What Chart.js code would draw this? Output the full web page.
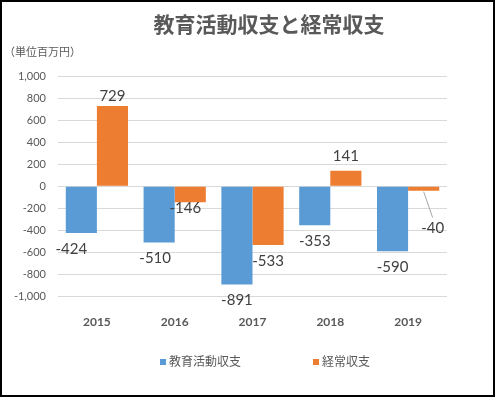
<!DOCTYPE html>
<html>
<head>
<meta charset="utf-8">
<script src="https://cdn.jsdelivr.net/npm/chart.js@4.4.0/dist/chart.umd.min.js"></script>
<style>
  html, body { margin: 0; padding: 0; background: #fff; }
  #wrap { width: 496px; height: 397px; position: relative; }
</style>
</head>
<body>
<div id="wrap"><canvas id="myChart"></canvas></div>
<script>
const categories = ['2015', '2016', '2017', '2018', '2019'];
const eduValues = [-424, -510, -891, -353, -590];
const ordinaryValues = [729, -146, -533, 141, -40];
const seriesNames = ['教育活動収支', '経常収支'];
const chartTitle = '教育活動収支と経常収支';
const unitLabel = '（単位百万円）';
const yMin = -1000;
const yMax = 1000;
const yStep = 200;

const fontStack = 'Lato, "Noto Sans CJK JP", sans-serif';
const textGrey = '#595959';
const blue = '#5B9BD5';
const orange = '#ED7D31';

// nudges for labels Excel moved by hand
const labelNudge = [
    [[-10, 0], [-4, 0], [0, 0], [0, 0], [0, 0]],
    [[0, 2], [-5, -10], [0, 0], [0, -3], [9, 21]]
];

const decorPlugin = {
    id: 'decor',
    afterDraw(chart) {
        const ctx = chart.ctx;
        ctx.save();
        // title
        ctx.fillStyle = textGrey;
        ctx.font = 'bold 21px ' + fontStack;
        ctx.textAlign = 'center';
        ctx.textBaseline = 'middle';
        ctx.fillText(chartTitle, 269, 25);
        // unit
        ctx.font = '11px ' + fontStack;
        ctx.textAlign = 'left';
        ctx.fillText(unitLabel, 4, 52);
        // legend
        const legendX = [160, 313];
        ctx.font = '12px ' + fontStack;
        chart.data.datasets.forEach((ds, i) => {
            ctx.fillStyle = ds.backgroundColor;
            ctx.fillRect(legendX[i], 359, 6, 6);
            ctx.fillStyle = textGrey;
            ctx.fillText(ds.label, legendX[i] + 9, 362);
        });
        // frame
        ctx.strokeStyle = '#000';
        ctx.lineWidth = 2;
        ctx.strokeRect(1, 1, 493, 395);
        ctx.restore();
    }
};

const labelPlugin = {
    id: 'barLabels',
    afterDatasetsDraw(chart) {
        const ctx = chart.ctx;
        ctx.save();
        ctx.font = '15px ' + fontStack;
        ctx.fillStyle = '#404040';
        ctx.textAlign = 'center';
        ctx.textBaseline = 'middle';
        chart.data.datasets.forEach((ds, di) => {
            const meta = chart.getDatasetMeta(di);
            meta.data.forEach((bar, i) => {
                const v = ds.data[i];
                const nudge = labelNudge[di][i];
                const cx = bar.x + nudge[0];
                const cy = (v >= 0 ? bar.y - 12 : bar.y + 16) + nudge[1];
                if (Math.abs(nudge[1]) > 15) {
                    ctx.strokeStyle = '#A6A6A6';
                    ctx.lineWidth = 1;
                    ctx.beginPath();
                    ctx.moveTo(bar.x, bar.y + 1);
                    ctx.lineTo(cx, cy - 10);
                    ctx.stroke();
                }
                ctx.fillText(String(v), cx, cy);
            });
        });
        ctx.restore();
    }
};

const ctx = document.getElementById('myChart').getContext('2d');
const myChart = new Chart(ctx, {
    type: 'bar',
    data: {
        labels: categories,
        datasets: [
            {
                label: seriesNames[0],
                data: eduValues,
                backgroundColor: blue
            },
            {
                label: seriesNames[1],
                data: ordinaryValues,
                backgroundColor: orange
            }
        ]
    },
    options: {
        responsive: true,
        maintainAspectRatio: false,
        animation: false,
        categoryPercentage: 0.8,
        barPercentage: 1.0,
        layout: {
            padding: { top: 76, right: 49, bottom: 0, left: 0 }
        },
        plugins: {
            legend: { display: false },
            title: { display: false },
            tooltip: { enabled: false }
        },
        scales: {
            x: {
                grid: { display: false },
                border: { display: false },
                ticks: {
                    color: textGrey,
                    padding: 10,
                    font: { family: fontStack, size: 12, weight: 'bold' }
                },
                afterFit: (s) => { s.height = 100.5; }
            },
            y: {
                min: yMin,
                max: yMax,
                grid: { color: '#D9D9D9', drawTicks: false },
                border: { display: false },
                ticks: {
                    stepSize: yStep,
                    color: textGrey,
                    padding: 12,
                    font: { family: fontStack, size: 11 },
                    callback: (v) => v.toLocaleString('en-US')
                },
                afterFit: (s) => { s.width = 58; }
            }
        }
    },
    plugins: [labelPlugin, decorPlugin]
});
</script>
</body>
</html>
